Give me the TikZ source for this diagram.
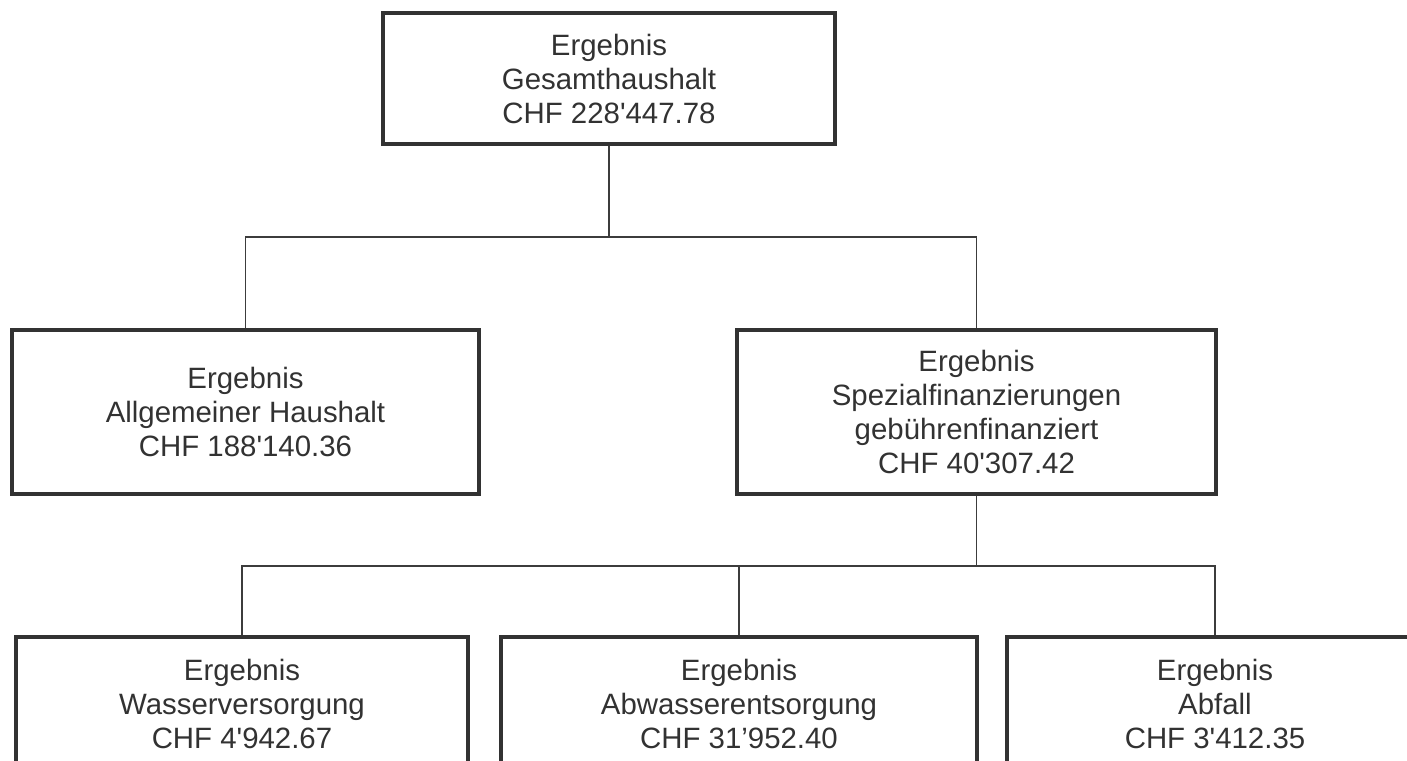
\documentclass[tikz,border=0pt]{standalone}
\usepackage{fontspec}
\setmainfont{Liberation Sans}
\usepackage{xcolor}
\definecolor{Col1}{RGB}{50,50,50}
\definecolor{Col2}{RGB}{60,60,60}
\usepackage{tikz}
\newcommand{\tsd}{\textquotesingle}
\tikzstyle{Box}=[rectangle,draw=Col1,line width=2pt,inner sep=0pt,
align=center,text=Col1,font=\fontsize{14.7}{17}\selectfont]
\tikzstyle{Edge}=[draw=Col2,line width=0.85pt]

\begin{document}
\begin{tikzpicture}[x=0.5pt,y=0.5pt]
        \useasboundingbox(0,0)rectangle(1407,-760);
        \clip(0,0)rectangle(1407,-760);
        \node[Box,minimum width=226pt,minimum height=65.5pt](gesamt)at(609,-78.5)
            {Ergebnis\\Gesamthaushalt\\CHF 228\tsd447.78};
        \node[Box,minimum width=233.5pt,minimum height=82pt](allg)at(245.5,-412)
            {Ergebnis\\Allgemeiner Haushalt\\CHF 188\tsd140.36};
        \node[Box,minimum width=239.5pt,minimum height=82pt](spez)at(976.5,-412)
            {Ergebnis\\Spezialfinanzierungen\\gebührenfinanziert\\CHF 40\tsd307.42};
        \node[Box,minimum width=226pt,minimum height=67pt](wasser)at(242,-704)
            {Ergebnis\\Wasserversorgung\\CHF 4\tsd942.67};
        \node[Box,minimum width=238pt,minimum height=67pt](abwasser)at(739,-704)
            {Ergebnis\\Abwasserentsorgung\\CHF 31’952.40};
        \node[Box,minimum width=208pt,minimum height=67pt](abfall)at(1215,-704)
            {Ergebnis\\Abfall\\CHF 3\tsd412.35};
        \coordinate(j1)at(609,-237);
        \coordinate(j2)at(976.5,-566);
        \draw[Edge](gesamt.south)--(j1);
        \draw[Edge](allg.north)|-(j1)-|(spez.north);
        \draw[Edge](spez.south)--(j2);
        \draw[Edge](wasser.north)|-(abfall.north|-j2)--(abfall.north);
        \draw[Edge](abwasser.north)--(abwasser.north|-j2);
    \end{tikzpicture}
\end{document}
